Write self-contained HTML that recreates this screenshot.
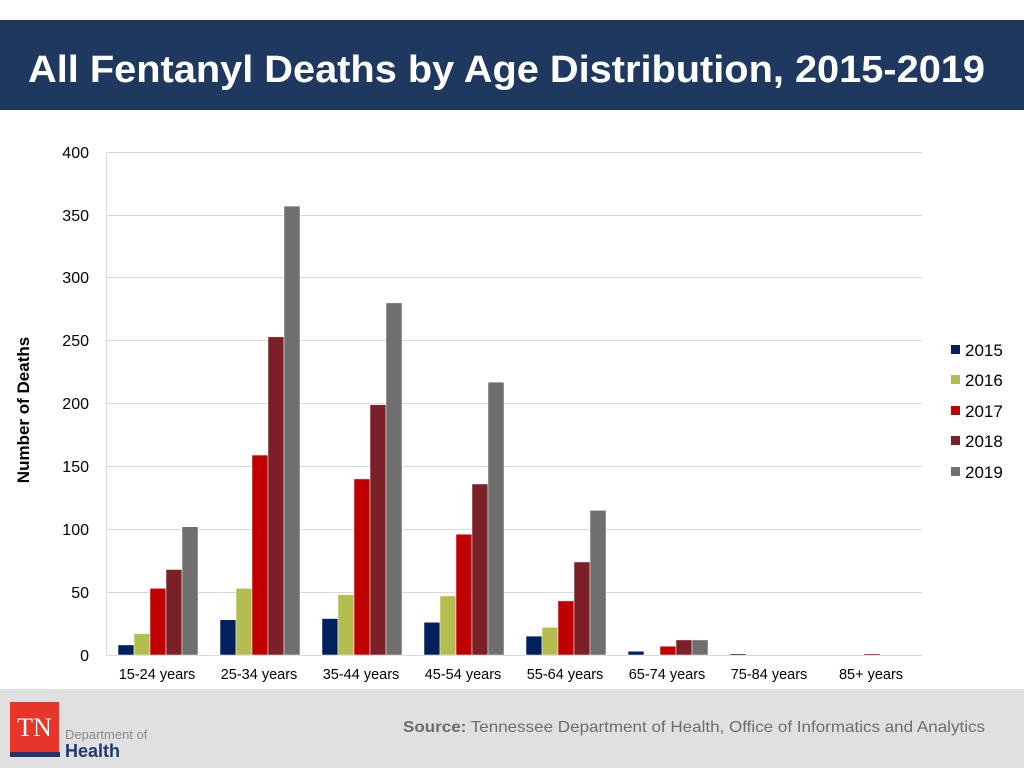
<!DOCTYPE html>
<html><head><meta charset="utf-8"><style>
body{margin:0;width:1024px;height:768px;overflow:hidden;background:#fff;font-family:"Liberation Sans",sans-serif}
</style></head><body>
<svg width="1024" height="768" xmlns="http://www.w3.org/2000/svg" font-family="Liberation Sans, sans-serif">
<rect x="0" y="20" width="1024" height="90" fill="#1e3860"/>
<text x="28" y="82" font-size="38" font-weight="bold" fill="#fff" textLength="957" lengthAdjust="spacingAndGlyphs">All Fentanyl Deaths by Age Distribution, 2015-2019</text>
<g stroke="#d9d9d9" stroke-width="1">
<line x1="107" y1="152.5" x2="922" y2="152.5"/>
<line x1="107" y1="215.5" x2="922" y2="215.5"/>
<line x1="107" y1="277.5" x2="922" y2="277.5"/>
<line x1="107" y1="340.5" x2="922" y2="340.5"/>
<line x1="107" y1="403.5" x2="922" y2="403.5"/>
<line x1="107" y1="466.5" x2="922" y2="466.5"/>
<line x1="107" y1="529.5" x2="922" y2="529.5"/>
<line x1="107" y1="592.5" x2="922" y2="592.5"/>
<line x1="107" y1="655.5" x2="922" y2="655.5"/>
<line x1="106.5" y1="152" x2="106.5" y2="655"/>
</g>
<g font-size="16" fill="#000" text-anchor="end">
<text x="89" y="158">400</text><text x="89" y="221">350</text><text x="89" y="283">300</text>
<text x="89" y="346">250</text><text x="89" y="409">200</text><text x="89" y="472">150</text>
<text x="89" y="535">100</text><text x="89" y="598">50</text><text x="89" y="661">0</text>
</g>
<text transform="translate(29,410) rotate(-90)" font-size="17" font-weight="bold" text-anchor="middle">Number of Deaths</text>
<g id="bars"></g>
<g font-size="14.5" text-anchor="middle">
<text x="157" y="679">15-24 years</text><text x="259" y="679">25-34 years</text><text x="361" y="679">35-44 years</text>
<text x="463" y="679">45-54 years</text><text x="565" y="679">55-64 years</text><text x="667" y="679">65-74 years</text>
<text x="769" y="679">75-84 years</text><text x="871" y="679">85+ years</text>
</g>
<g font-size="17">
<rect x="951" y="345" width="9" height="9" fill="#002060"/><text x="965" y="356">2015</text>
<rect x="951" y="375" width="9" height="9" fill="#b4bd4f"/><text x="965" y="386">2016</text>
<rect x="951" y="406" width="9" height="9" fill="#c00000"/><text x="965" y="417">2017</text>
<rect x="951" y="436" width="9" height="9" fill="#7b2027"/><text x="965" y="447">2018</text>
<rect x="951" y="467" width="9" height="9" fill="#6f6f6f"/><text x="965" y="478">2019</text>
</g>
<rect x="0" y="689" width="1024" height="79" fill="#e0e0e0"/>
<rect x="10" y="702" width="49" height="50" fill="#e8352a"/>
<text x="34.5" y="736" font-family="Liberation Serif, serif" font-size="26" fill="#fff" text-anchor="middle">TN</text>
<rect x="10" y="752" width="50" height="5" fill="#1e3870"/>
<text x="65" y="739" font-size="13" fill="#8a8a8a">Department of</text>
<text x="65" y="757" font-size="18" font-weight="bold" fill="#1e3870">Health</text>
<text x="403" y="732" font-size="16" fill="#6d6d6d" textLength="582" lengthAdjust="spacingAndGlyphs"><tspan font-weight="bold">Source:</tspan> Tennessee Department of Health, Office of Informatics and Analytics</text>
</svg>
<script>
var d=[[8,17,53,68,102],[28,53,159,253,357],[29,48,140,199,280],[26,47,96,136,217],[15,22,43,74,115],[3,0,7,12,12],[1,0,0,0,0],[0,0,1,0,0]];
var c=["#002060","#b4bd4f","#c00000","#7b2027","#6f6f6f"];
var g=document.getElementById("bars"),s="";
for(var i=0;i<8;i++)for(var j=0;j<5;j++){var v=d[i][j];if(!v)continue;var h=v*1.2575;
s+='<rect x="'+(118+i*102+j*16)+'" y="'+(655-h)+'" width="16" height="'+h+'" fill="'+c[j]+'" stroke="#fff" stroke-width="0.5"/>';}
g.innerHTML=s;
</script>
</body></html>
